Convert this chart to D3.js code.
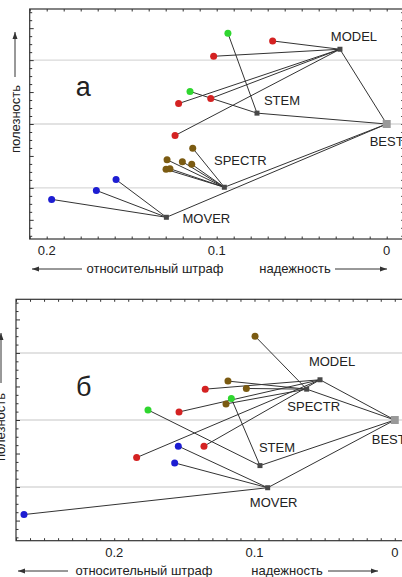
<!DOCTYPE html>
<html>
<head>
<meta charset="utf-8">
<script src="https://cdn.jsdelivr.net/npm/d3@7"></script>
<style>
  body { margin: 0; background: #fff; }
  svg { display: block; font-family: "Liberation Sans", Arial, sans-serif; }
</style>
</head>
<body>
<svg id="chart" width="402" height="577"></svg>
<script>
// x = relative penalty, y = utility (no tick labels on y)
const xTickValues = [0.2, 0.1, 0];
const xTickLabels = ["0.2", "0.1", "0"];
const gridValues = [1, 2, 3];

// panel a: hubs [name, penalty, utility]
const hubsA = [
  ["MODEL", 0.0275, 3.17],
  ["STEM", 0.0763, 2.17],
  ["SPECTR", 0.0955, 1.01],
  ["MOVER", 0.1296, 0.54],
  ["BEST", 0, 2.0]
];
// panel a: points [penalty, utility, hub]
const pointsA = [
  [0.0934, 3.42, "STEM"],
  [0.0671, 3.30, "MODEL"],
  [0.1018, 3.06, "MODEL"],
  [0.1157, 2.51, "STEM"],
  [0.1035, 2.40, "MODEL"],
  [0.1224, 2.32, "MODEL"],
  [0.1245, 1.82, "MODEL"],
  [0.1141, 1.62, "SPECTR"],
  [0.1292, 1.44, "SPECTR"],
  [0.1202, 1.41, "SPECTR"],
  [0.1147, 1.37, "SPECTR"],
  [0.1298, 1.29, "SPECTR"],
  [0.1275, 1.30, "SPECTR"],
  [0.1592, 1.13, "MOVER"],
  [0.1708, 0.96, "MOVER"],
  [0.1971, 0.82, "MOVER"]
];

// panel b
const hubsB = [
  ["MODEL", 0.0533, 2.60],
  ["SPECTR", 0.0628, 2.46],
  ["STEM", 0.0961, 1.32],
  ["MOVER", 0.0906, 0.99],
  ["BEST", 0, 2.0]
];
const pointsB = [
  [0.0996, 3.25, "SPECTR"],
  [0.1189, 2.58, "SPECTR"],
  [0.1351, 2.46, "MODEL"],
  [0.1058, 2.47, "SPECTR"],
  [0.1165, 2.32, "STEM"],
  [0.1203, 2.24, "SPECTR"],
  [0.1538, 2.12, "MODEL"],
  [0.1759, 2.15, "STEM"],
  [0.1360, 1.61, "MODEL"],
  [0.1543, 1.61, "MOVER"],
  [0.1840, 1.44, "MODEL"],
  [0.1569, 1.36, "MOVER"],
  [0.2643, 0.59, "MOVER"]
];

const color = { MODEL: "#d42222", STEM: "#2fd62f", SPECTR: "#7b5b12", MOVER: "#1d1dd2" };

const svg = d3.select("#chart");

function arrow(g, x1, y1, x2, y2) {
  g.append("line")
    .attr("x1", x1).attr("y1", y1).attr("x2", x2).attr("y2", y2)
    .attr("stroke", "#333").attr("stroke-width", 1);
  const a = Math.atan2(y2 - y1, x2 - x1);
  const p = [[x2, y2],
    [x2 - 7 * Math.cos(a) + 2.5 * Math.sin(a), y2 - 7 * Math.sin(a) - 2.5 * Math.cos(a)],
    [x2 - 7 * Math.cos(a) - 2.5 * Math.sin(a), y2 - 7 * Math.sin(a) + 2.5 * Math.cos(a)]];
  g.append("path").attr("d", "M" + p.join("L") + "Z").attr("fill", "#333");
}

function drawPanel(cfg) {
  const x = d3.scaleLinear().domain([0.21, -0.01]).range(cfg.xr);
  x.domain([cfg.xmax, -0.01]);
  const y = d3.scaleLinear().domain([0.2, 3.8]).range(cfg.yr);
  const g = svg.append("g");
  const [x0, x1] = cfg.xr, [yb, yt] = cfg.yr;

  g.selectAll(".grid").data(gridValues).enter().append("line")
    .attr("x1", x0).attr("x2", x1)
    .attr("y1", d => y(d)).attr("y2", d => y(d))
    .attr("stroke", "#d9d9d9").attr("stroke-width", 1.4);

  const hub = {};
  cfg.hubs.forEach(h => hub[h[0]] = h);

  // hubs to BEST
  g.selectAll(".hl").data(cfg.hubs.filter(h => h[0] != "BEST")).enter().append("line")
    .attr("x1", d => x(d[1])).attr("y1", d => y(d[2]))
    .attr("x2", x(hub.BEST[1])).attr("y2", y(hub.BEST[2]))
    .attr("stroke", "#333").attr("stroke-width", 1);

  g.selectAll(".pl").data(cfg.points).enter().append("line")
    .attr("x1", d => x(d[0])).attr("y1", d => y(d[1]))
    .attr("x2", d => x(hub[d[2]][1])).attr("y2", d => y(hub[d[2]][2]))
    .attr("stroke", "#333").attr("stroke-width", 1);

  g.selectAll(".pt").data(cfg.points).enter().append("circle")
    .attr("cx", d => x(d[0])).attr("cy", d => y(d[1]))
    .attr("r", 3.5)
    .attr("fill", d => color[d[2]]);

  g.selectAll(".sq").data(cfg.hubs).enter().append("rect")
    .attr("x", d => x(d[1]) - (d[0] == "BEST" ? 4 : 2.5))
    .attr("y", d => y(d[2]) - (d[0] == "BEST" ? 4 : 2.5))
    .attr("width", d => d[0] == "BEST" ? 8 : 5)
    .attr("height", d => d[0] == "BEST" ? 8 : 5)
    .attr("fill", d => d[0] == "BEST" ? "#999" : "#484848");

  g.selectAll(".lab").data(cfg.hubs).enter().append("text")
    .attr("x", d => x(d[1]) + cfg.labelOff[d[0]][0])
    .attr("y", d => y(d[2]) + cfg.labelOff[d[0]][1])
    .attr("text-anchor", d => d[0] == "BEST" ? "start" : "middle")
    .attr("font-size", 13).attr("fill", "#222")
    .text(d => d[0]);

  // frame with inward ticks
  g.append("rect")
    .attr("x", x0).attr("y", yt).attr("width", x1 - x0).attr("height", yb - yt)
    .attr("fill", "none").attr("stroke", "#333").attr("stroke-width", 1.2);

  const minorX = d3.range(-1, Math.floor(cfg.xmax * 100) + 1).map(i => i / 100);
  g.append("g").attr("transform", `translate(0,${yb})`)
    .call(d3.axisBottom(x).tickValues(minorX).tickSize(-2.5).tickFormat(""))
    .call(a => a.select(".domain").remove());
  g.append("g").attr("transform", `translate(0,${yt})`)
    .call(d3.axisTop(x).tickValues(minorX).tickSize(-2.5).tickFormat(""))
    .call(a => a.select(".domain").remove());
  const minorY = d3.range(2, 31).map(i => i / 8);
  g.append("g").attr("transform", `translate(${x0},0)`)
    .call(d3.axisLeft(y).tickValues(minorY).tickSize(-2.5).tickFormat(""))
    .call(a => a.select(".domain").remove())
    .selectAll("line").attr("x2", d => (d * 2) % 1 == 0 ? 4 : 2.5);
  g.append("g").attr("transform", `translate(${x1},0)`)
    .call(d3.axisRight(y).tickValues(minorY).tickSize(-2.5).tickFormat(""))
    .call(a => a.select(".domain").remove());
  g.selectAll(".tick line").attr("stroke", "#333");

  g.selectAll(".xl").data(xTickValues).enter().append("text")
    .attr("x", d => x(d)).attr("y", cfg.tickY)
    .attr("text-anchor", "middle").attr("font-size", 13).attr("fill", "#222")
    .text((d, i) => xTickLabels[i]);

  g.append("text").attr("x", x0 + cfg.letter[0]).attr("y", cfg.letter[1])
    .attr("font-size", 27).attr("fill", "#222").text(cfg.name);

  g.append("text").attr("x", cfg.penaltyX).attr("y", cfg.titleY)
    .attr("text-anchor", "middle").attr("font-size", 13).attr("fill", "#222")
    .text("относительный штраф");
  g.append("text").attr("x", cfg.relX).attr("y", cfg.titleY)
    .attr("text-anchor", "middle").attr("font-size", 13).attr("fill", "#222")
    .text("надежность");
  arrow(g, cfg.leftArrow[1], cfg.titleY - 4, cfg.leftArrow[0], cfg.titleY - 4);
  arrow(g, cfg.rightArrow[0], cfg.titleY - 4, cfg.rightArrow[1], cfg.titleY - 4);

  g.append("text")
    .attr("transform", `translate(${cfg.yLab[0]},${cfg.yLab[1]}) rotate(-90)`)
    .attr("text-anchor", "middle").attr("font-size", 13).attr("fill", "#222")
    .text("полезность");
  arrow(g, cfg.yArrow[0], cfg.yArrow[1], cfg.yArrow[0], cfg.yArrow[2]);
}

drawPanel({
  name: "а", hubs: hubsA, points: pointsA,
  xmax: 0.21, xr: [29.7, 403.7], yr: [239, 9],
  labelOff: { MODEL: [14, -8.6], STEM: [25, -8], BEST: [-17, 22.4], SPECTR: [16, -22.6], MOVER: [40, 5.7] },
  tickY: 255, titleY: 273, penaltyX: 155, relX: 295,
  leftArrow: [32, 82], rightArrow: [335, 387],
  letter: [46, 96], yLab: [20, 119], yArrow: [15, 77, 32]
});

drawPanel({
  name: "б", hubs: hubsB, points: pointsB,
  xmax: 0.27, xr: [16, 408.8], yr: [540.7, 299.3],
  labelOff: { MODEL: [12, -13.3], STEM: [17, -14], BEST: [-23, 24], SPECTR: [7, 21.4], MOVER: [6, 19.6] },
  tickY: 557, titleY: 575, penaltyX: 144, relX: 287,
  leftArrow: [18, 68], rightArrow: [328, 378],
  letter: [60, 396], yLab: [4.5, 427], yArrow: [1, 383, 333]
});
</script>
</body>
</html>
